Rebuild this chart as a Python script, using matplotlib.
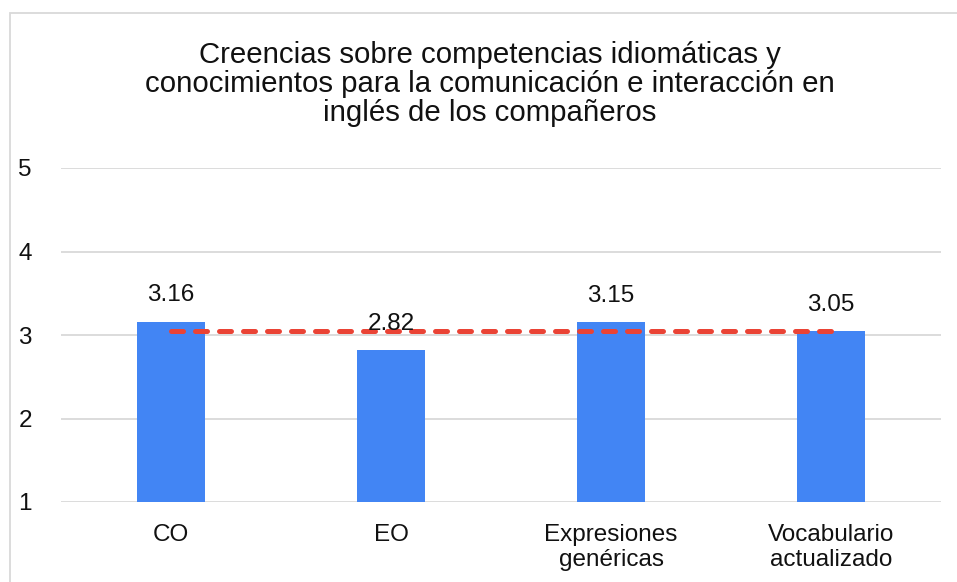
import numpy as np
import matplotlib.pyplot as plt
from matplotlib.patches import Rectangle

plt.rcParams['font.family'] = ['Liberation Sans', 'DejaVu Sans']

# data
categories = ["CO", "EO", "Expresiones\ngenéricas", "Vocabulario\nactualizado"]
values = [3.16, 2.82, 3.15, 3.05]
value_labels = ["3.16", "2.82", "3.15", "3.05"]
mean_value = np.mean(values)  # dashed average line
title = ("Creencias sobre competencias idiomáticas y\n"
         "conocimientos para la comunicación e interacción en\n"
         "inglés de los compañeros")

W, H = 957, 582
fig = plt.figure(figsize=(W / 100, H / 100), dpi=100)
ax = fig.add_axes([61 / W, 1 - 502 / H, 880 / W, 334 / H])

x = np.arange(len(categories))
ax.bar(x, [v - 1 for v in values], bottom=1, width=0.313, color="#4285F4", zorder=2)

for xi, v, lab in zip(x, values, value_labels):
    ax.annotate(lab, (xi, v), xytext=(0, 11), textcoords="offset points",
                ha="center", va="bottom", fontsize=17.5, color="#111111", zorder=4)

ax.plot([x[0], x[-1]], [mean_value, mean_value], color="#EA4335", lw=3.6,
        linestyle=(0, (2.4, 2.4)), dash_capstyle="round", zorder=3)

ax.set_xlim(-0.5, len(categories) - 0.5)
ax.set_ylim(1, 5)
ax.set_yticks([1, 2, 3, 4, 5])
ax.set_xticks(x)
ax.set_xticklabels(categories, linespacing=1.15)
ax.tick_params(axis="both", length=0, labelsize=17.5, colors="#111111")
ax.tick_params(axis="y", pad=21)
ax.tick_params(axis="x", pad=16)
ax.grid(axis="y", color="#d9d9d9", lw=1.3, zorder=0)
ax.set_axisbelow(True)
for s in ax.spines.values():
    s.set_visible(False)

fig.text(490 / W, 1 - 121 / H, title, ha="center", va="baseline", fontsize=21.2,
         linespacing=1.05, color="#111111")

# outer chart border
fig.patches.append(Rectangle((10 / W, -0.1), 1.2, 1 - 13 / H + 0.1,
                             transform=fig.transFigure, fill=False,
                             edgecolor="#d9d9d9", lw=1.3))

fig.savefig("out.png", dpi=100)
